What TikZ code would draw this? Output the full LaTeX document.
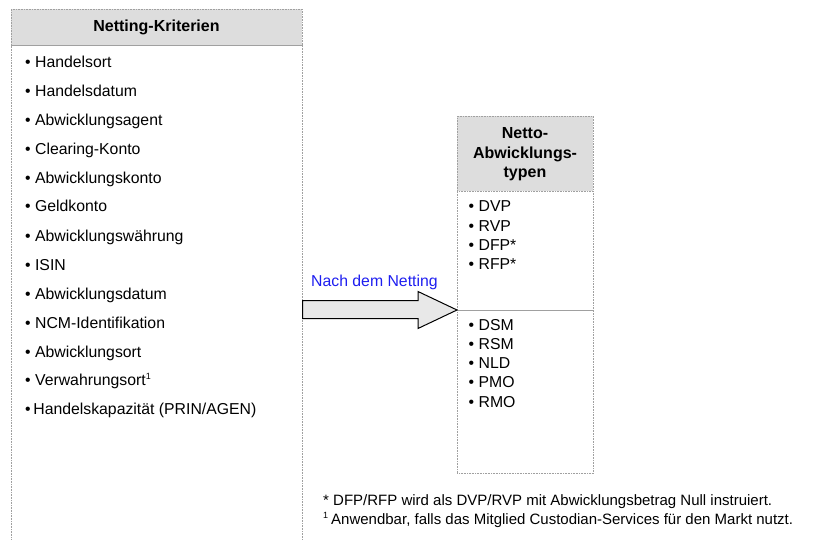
\documentclass[tikz,border=0pt]{standalone}
\usepackage{fontspec}
\setmainfont{Liberation Sans}
\usetikzlibrary{calc}
\definecolor{hdr}{HTML}{DDDDDD}
\definecolor{frm}{HTML}{A0A0A0}
\definecolor{arrfill}{HTML}{E8E8E8}
\definecolor{lblue}{HTML}{1E1EF0}
\tikzset{
  frame/.style={draw=frm, densely dotted, line width=0.6pt, inner sep=0pt, anchor=north west},
  head/.style={frame, fill=hdr},
  item/.style={anchor=base west, inner sep=0pt, font=\fontsize{15.8}{18}\selectfont},
  titletxt/.style={anchor=base, inner sep=0pt, align=center, font=\fontsize{16}{19}\selectfont\bfseries},
  foot/.style={anchor=base west, inner sep=0pt, font=\fontsize{15}{18}\selectfont},
  bigarrow/.style={draw=black, line width=1pt, fill=arrfill, line join=miter}
}
\begin{document}
\begin{tikzpicture}[x=1pt,y=-1pt]
\useasboundingbox (0,0) rectangle (822,540);
\clip (0,0) rectangle (822,540);
% left box
\node[head, minimum width=291pt, minimum height=36pt] (lhead) at (11,9) {};
\node[frame, minimum width=291pt, minimum height=520pt] (lbody) at (11,45) {};
\node[titletxt] (ltitle) at (156.5,32) {Netting-Kriterien};
\node[item] (l1) at (25,68) {• Handelsort};
\node[item] (l2) at (25,97) {• Handelsdatum};
\node[item] (l3) at (25,126) {• Abwicklungsagent};
\node[item] (l4) at (25,155) {• Clearing-Konto};
\node[item] (l5) at (25,184) {• Abwicklungskonto};
\node[item] (l6) at (25,212) {• Geldkonto};
\node[item] (l7) at (25,241) {• Abwicklungswährung};
\node[item] (l8) at (25,270) {• ISIN};
\node[item] (l9) at (25,299) {• Abwicklungsdatum};
\node[item] (l10) at (25,328) {• NCM-Identifikation};
\node[item] (l11) at (25,357) {• Abwicklungsort};
\node[item] (l12) at (25,385) {• Verwahrungsort\textsuperscript{\fontsize{9}{9}\selectfont 1}};
\node[item] (l13) at (25,414) {•\,Handelskapazität (PRIN/AGEN)};
% right box
\node[head, minimum width=136pt, minimum height=75pt] (rhead) at (457,116) {};
\node[frame, minimum width=136pt, minimum height=119pt] (rtop) at (457,191) {};
\node[frame, minimum width=136pt, minimum height=163pt] (rbot) at (457,310) {};
\node[titletxt] (rt1) at (525,139) {Netto-};
\node[titletxt] (rt2) at (525,158.5) {Abwicklungs-};
\node[titletxt] (rt3) at (525,177.5) {typen};
\node[item] (r1) at (468.5,212) {• DVP};
\node[item] (r2) at (468.5,231.3) {• RVP};
\node[item] (r3) at (468.5,250.6) {• DFP*};
\node[item] (r4) at (468.5,269.9) {• RFP*};
\node[item] (r5) at (468.5,330) {• DSM};
\node[item] (r6) at (468.5,349.3) {• RSM};
\node[item] (r7) at (468.5,368.6) {• NLD};
\node[item] (r8) at (468.5,387.9) {• PMO};
\node[item] (r9) at (468.5,407.2) {• RMO};
% arrow
\coordinate (tail) at (lbody.east |- rbot.north west);
\coordinate (tip) at (rbot.north west);
\draw[bigarrow] ($(tail)+(0,-9.5)$) -- ($(tip)+(-39,-9.5)$) -- ($(tip)+(-39,-18.5)$) -- (tip)
  -- ($(tip)+(-39,18.5)$) -- ($(tip)+(-39,8.5)$) -- ($(tail)+(0,8.5)$) -- cycle;
\node[item, text=lblue] (lbl) at (311,286) {Nach dem Netting};
% footnotes
\node[foot] (f1) at (323,505) {* DFP/RFP wird als DVP/RVP mit Abwicklungsbetrag Null instruiert.};
\node[foot] (f2) at (323,524) {\textsuperscript{\fontsize{9}{9}\selectfont 1}\,Anwendbar, falls das Mitglied Custodian-Services für den Markt nutzt.};
\end{tikzpicture}
\end{document}
